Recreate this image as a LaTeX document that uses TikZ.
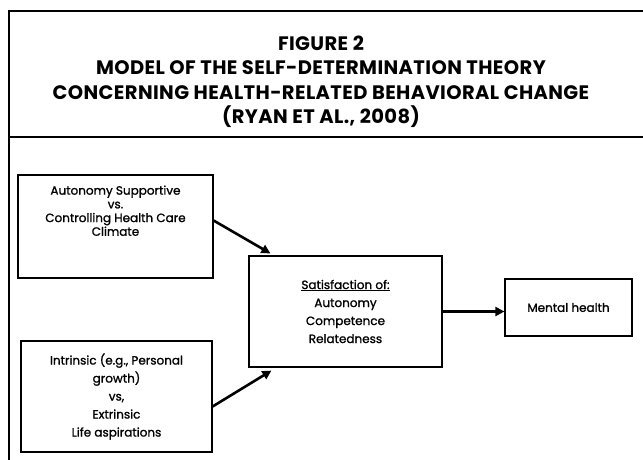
\documentclass[tikz,border=0pt]{standalone}
\usepackage{fontspec}
\setmainfont{Poppins}
\newfontfamily\boxfont{Poppins}[FakeBold=1.2]
\usetikzlibrary{arrows.meta}

\begin{document}
\begin{tikzpicture}[
  x=1pt, y=-1pt,
  frame/.style  = {line width=1.8pt},
  title/.style  = {font=\bfseries\fontsize{19.5}{24.5}\selectfont\addfontfeature{LetterSpace=2}, align=center},
  factor/.style = {draw, line width=1.2pt, align=center, inner sep=2pt,
                   font=\boxfont\fontsize{12}{18}\selectfont},
  tight/.style  = {font=\boxfont\fontsize{12}{13.7}\selectfont},
  link/.style   = {line width=2.6pt, -{Triangle[length=9pt,width=9pt]}},
]
  \useasboundingbox (0,0) rectangle (643,459);

  % page frame, cut by the right and bottom edges
  \draw[frame] (9,470) -- (9,11) -- (660,11);
  \draw[frame] (9,137) -- (660,137);

  \node[title] (head) at (321,82) {FIGURE 2\\
    MODEL OF THE SELF-DETERMINATION THEORY\\
    CONCERNING HEALTH-RELATED BEHAVIORAL CHANGE\\
    (RYAN ET AL., 2008)};

  \node[factor, tight, minimum width=195pt, minimum height=103pt] (climate) at (115.5,226.5)
    {Autonomy Supportive\\vs.\\Controlling Health Care\\Climate\\[18pt]\mbox{}};
  \node[factor, minimum width=191pt, minimum height=111pt] (aspire) at (116.5,396.5)
    {Intrinsic (e.g., Personal\\growth)\\vs,\\Extrinsic\\Life aspirations};
  \node[factor, minimum width=193pt, minimum height=111pt] (needs) at (345.5,311.5)
    {\underline{Satisfaction of:}\\Autonomy\\Competence\\Relatedness};
  \node[factor, minimum width=127pt, minimum height=57pt] (health) at (568.5,307.5)
    {Mental health};

  \draw[link] ([yshift=6pt]climate.east) -- ([xshift=22pt,yshift=2pt]needs.north west);
  \draw[link] ([yshift=-10pt]aspire.east) -- ([xshift=23pt,yshift=-3pt]needs.south west);
  \draw[link] (needs.east) -- (needs.east -| health.west);
\end{tikzpicture}
\end{document}
